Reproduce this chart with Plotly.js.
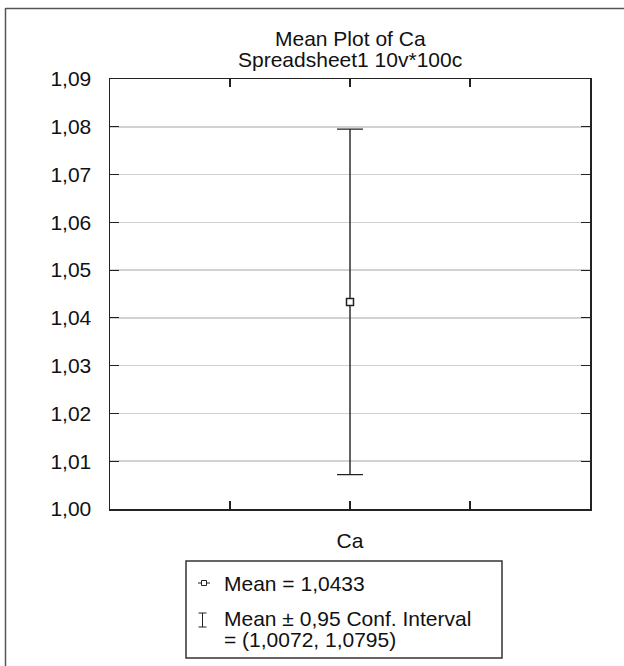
<!DOCTYPE html>
<html>
<head>
<meta charset="utf-8">
<script src="https://cdn.plot.ly/plotly-3.0.1.min.js"></script>
<style>html,body{margin:0;padding:0;background:#fff;}#chart{width:624px;height:666px;}</style>
</head>
<body>
<div id="chart"></div>
<script>
const categories = ['Ca'];
const means = [1.0433];
const ciLow = [1.0072];
const ciHigh = [1.0795];
const confLevel = 0.95;
const yTickVals = [1.00, 1.01, 1.02, 1.03, 1.04, 1.05, 1.06, 1.07, 1.08, 1.09];
const titleLine1 = 'Mean Plot of Ca';
const titleLine2 = 'Spreadsheet1 10v*100c';

const W = 624, H = 666;
const M = {l: 110, r: 34, t: 79, b: 157};
const PW = W - M.l - M.r, PH = H - M.t - M.b;
const px = x => (x - M.l) / PW;
const py = y => (H - M.b - y) / PH;
const fmt = (v, d) => v.toFixed(d).replace('.', ',');

const FONT = 'Liberation Sans, Arial, Helvetica, sans-serif';
const DARK = '#222';
const FS = 21;
const xs = categories.map((c, i) => i);

const trace = {
  type: 'scatter',
  mode: 'markers',
  x: xs,
  y: means,
  marker: {symbol: 'square', size: 7, color: '#fff', line: {color: DARK, width: 1.5}},
  error_y: {
    type: 'data', symmetric: false,
    array: means.map((m, i) => ciHigh[i] - m),
    arrayminus: means.map((m, i) => m - ciLow[i]),
    color: DARK, thickness: 1.4, width: 13
  },
  showlegend: false,
  hoverinfo: 'skip'
};

const lineShape = (x0, y0, x1, y1, color, width) => ({
  type: 'line', xref: 'paper', yref: 'paper',
  x0: px(x0), y0: py(y0), x1: px(x1), y1: py(y1),
  line: {color: color, width: width}
});

const shapes = [
  lineShape(5.5, 8, 5.5, 666, '#555', 1.5),
  lineShape(5.5, 8.5, 624, 8.5, '#555', 1.5),
  {type: 'rect', xref: 'paper', yref: 'paper', x0: px(186), x1: px(502), y0: py(561), y1: py(658),
   line: {color: '#333', width: 1.5}, fillcolor: 'rgba(0,0,0,0)'},
  lineShape(198, 583, 210, 583, DARK, 1),
  {type: 'rect', xref: 'paper', yref: 'paper', x0: px(201.5), x1: px(206.5), y0: py(580.5), y1: py(585.5),
   line: {color: DARK, width: 1}, fillcolor: '#fff'},
  lineShape(202.5, 613, 202.5, 627, DARK, 1),
  lineShape(198.5, 613, 206.5, 613, DARK, 1),
  lineShape(198.5, 627, 206.5, 627, DARK, 1)
];

const ann = (text, x, y, xanchor, size) => ({
  text: text, xref: 'paper', yref: 'paper', x: px(x), y: py(y),
  xanchor: xanchor, yanchor: 'middle', showarrow: false,
  font: {family: FONT, size: size, color: '#111'}
});

const annotations = [
  ann(titleLine1, 350, 38, 'center', FS),
  ann(titleLine2, 350, 60, 'center', FS),
  ann('Mean = ' + fmt(means[0], 4), 222, 583, 'left', FS),
  ann('Mean \u00b1 ' + fmt(confLevel, 2) + ' Conf. Interval', 222, 618, 'left', FS),
  ann('= (' + fmt(ciLow[0], 4) + ', ' + fmt(ciHigh[0], 4) + ')', 222, 639, 'left', FS)
];

const layout = {
  width: W, height: H, autosize: false,
  margin: M,
  paper_bgcolor: '#fff', plot_bgcolor: '#fff',
  font: {family: FONT, size: FS, color: '#111'},
  separators: ',.',
  showlegend: false,
  xaxis: {
    range: [-2, 2], tickmode: 'array',
    tickvals: [-1, 0, 1],
    ticktext: ['', categories[0], ''],
    ticks: 'inside', ticklen: 8, tickwidth: 1.2, tickcolor: DARK,
    showline: true, linecolor: DARK, linewidth: 1.5, mirror: 'ticks',
    showgrid: false, zeroline: false, fixedrange: true,
    ticklabelstandoff: 12,
    tickfont: {family: FONT, size: FS, color: '#111'}
  },
  yaxis: {
    range: [1.00, 1.09], tickmode: 'array', tickvals: yTickVals,
    tickformat: '.2f',
    ticks: 'inside', ticklen: 9, tickwidth: 1.2, tickcolor: DARK,
    showline: true, linecolor: DARK, linewidth: 1.5, mirror: 'ticks',
    showgrid: true, gridcolor: '#d2d2d2', gridwidth: 1.5,
    zeroline: false, fixedrange: true,
    ticklabelstandoff: 13,
    tickfont: {family: FONT, size: FS, color: '#111'}
  },
  shapes: shapes,
  annotations: annotations
};

Plotly.newPlot('chart', [trace], layout, {staticPlot: true, displayModeBar: false});
</script>
</body>
</html>
